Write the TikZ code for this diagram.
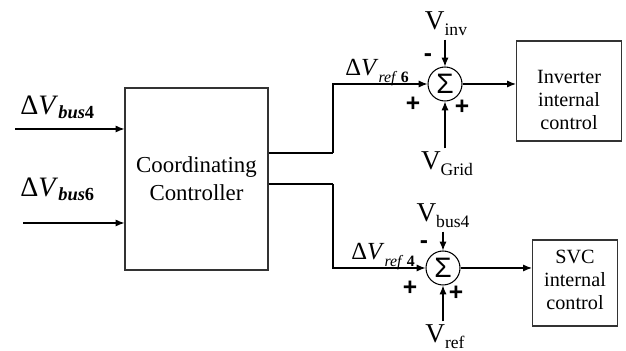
\documentclass[tikz,border=0pt]{standalone}
\usepackage{fontspec}
\setmainfont{Liberation Serif}
\setsansfont{Liberation Sans}
\usetikzlibrary{arrows.meta, positioning, calc}
\newcommand{\dVbus}[1]{Δ\textit{V}\raisebox{-0.25ex}{\fontsize{10.5}{10.5}\selectfont\bfseries\itshape bus\upshape#1}}
\newcommand{\dVref}[1]{Δ\textit{V}\raisebox{-0.6ex}{\fontsize{9}{9}\selectfont\itshape ref\hspace{3pt}\upshape\bfseries#1}}
\newcommand{\Vsub}[1]{V\raisebox{-0.45ex}{\fontsize{10}{10}\selectfont#1}}

\begin{document}
\begin{tikzpicture}[
    x=0.02cm, y=-0.02cm,
    block/.style={draw=black!80, line width=0.7pt, align=center, inner sep=0pt},
    boxtext/.style={align=center, inner sep=0pt, font=\fontsize{11.5}{13}\selectfont},
    sumnode/.style={draw, circle, line width=0.6pt, minimum size=0.68cm, inner sep=0pt, font=\sffamily\fontsize{16}{16}\selectfont},
    sign/.style={font=\sffamily\bfseries\fontsize{14}{14}\selectfont, inner sep=0pt},
    vlabel/.style={font=\fontsize{15.5}{15.5}\selectfont, inner sep=2pt, anchor=base},
    dlabel/.style={inner sep=0pt, anchor=base west},
    arrow/.style={-{Latex[length=5pt,width=4pt]}, line width=0.6pt},
    wire/.style={line width=0.6pt},
]
\useasboundingbox (0,0) rectangle (626,351);

% controller and the two internal control blocks
\node[block, minimum width=2.86cm, minimum height=3.64cm, font=\fontsize{13}{16}\selectfont] (ctrl) at (196.5,179) {Coordinating\\Controller};
\node[block, minimum width=2.1cm, minimum height=2.0cm] (inv) at (569,91) {};
\node[boxtext] (invtxt) at ($(inv.center)+(0,9)$) {Inverter\\internal\\control};
\node[block, minimum width=1.7cm, minimum height=1.72cm] (svc) at (575,283) {};
\node[boxtext] (svctxt) at ($(svc.center)+(0,-3)$) {SVC\\internal\\control};

% summing junctions
\node[sumnode] (s1) at (445,84) {Σ};
\node[sumnode] (s2) at (443,268) {Σ};

% inputs
\coordinate (in4) at (15,129);
\coordinate (in6) at (23,223);
\node[dlabel, font=\fontsize{16}{16}\selectfont] (lb4) at (20,115) {\dVbus{4}};
\node[dlabel, font=\fontsize{16}{16}\selectfont] (lb6) at (20,197) {\dVbus{6}};
\draw[arrow] (in4) -- (in4 -| ctrl.west);
\draw[arrow] (in6) -- (in6 -| ctrl.west);

% outputs of the controller
\coordinate (j1) at (333,153);
\coordinate (j2) at (333,184);
\draw[wire] (j1 -| ctrl.east) -- (j1);
\draw[wire] (j2 -| ctrl.east) -- (j2);
\draw[arrow] (j1) -- (j1 |- s1) -- (s1.west);
\draw[arrow] (j2) -- (j2 |- s2) -- (s2.west);
\node[dlabel, font=\fontsize{14}{14}\selectfont] (lr6) at (345,76) {\dVref{6}};
\node[dlabel, font=\fontsize{14}{14}\selectfont] (lr4) at (351,260) {\dVref{4}};

% upper loop
\node[vlabel] (vinv) at (446,30) {\Vsub{inv}};
\node[vlabel] (vgrid) at (447,170) {\Vsub{Grid}};
\draw[arrow] (vinv.south -| s1) -- (s1.north);
\draw[arrow] (vgrid.north -| s1) -- (s1.south);
\draw[arrow] (s1.east) -- (s1 -| inv.west);
\node[sign] (m1) at (428,58) {-};
\node[sign] (p1) at (413,104) {+};
\node[sign] (q1) at (462,107) {+};

% lower loop
\node[vlabel] (vbus) at (443,222) {\Vsub{bus4}};
\node[vlabel] (vref) at (445,343) {\Vsub{ref}};
\draw[arrow] (vbus.south -| s2) -- (s2.north);
\draw[arrow] (vref.north -| s2) -- (s2.south);
\draw[arrow] (s2.east) -- (s2 -| svc.west);
\node[sign] (m2) at (424,245) {-};
\node[sign] (p2) at (410,288) {+};
\node[sign] (q2) at (456,293) {+};
\end{tikzpicture}
\end{document}
